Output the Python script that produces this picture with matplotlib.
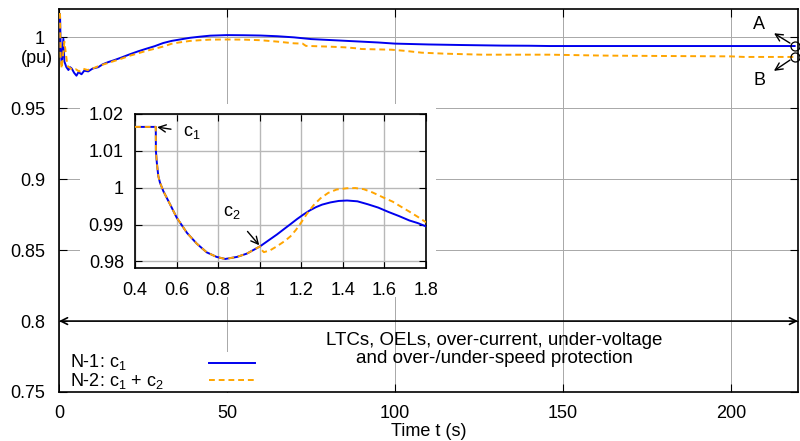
import matplotlib
matplotlib.use("Agg")
import matplotlib.pyplot as plt
from matplotlib.patches import Rectangle
from matplotlib.lines import Line2D

plt.rcParams['font.family'] = ['Liberation Sans', 'DejaVu Sans']
plt.rcParams['mathtext.fontset'] = 'custom'
plt.rcParams['mathtext.rm'] = 'Liberation Sans'
plt.rcParams['mathtext.it'] = 'Liberation Sans:italic'
plt.rcParams['mathtext.default'] = 'regular'

# ---------------- data ----------------
t_n1 = [0, 0.3, 0.5, 0.8, 1.3, 1.6, 2.2, 2.8, 3.3, 3.8, 4.5, 5.2, 5.8, 6.7, 7.5,
        8.7, 10, 11.7, 13, 14.7, 16.5, 18.6, 21, 23.6, 26, 28.5, 31, 33.5, 36,
        39, 42, 45, 50, 55, 60, 65, 70, 75, 80, 85, 90, 95, 100, 105, 110, 115,
        120, 126, 132, 140, 146, 155, 165, 175, 185, 195, 205, 215, 219]
v_n1 = [1.0165, 1.0165, 0.992, 0.981, 0.999, 0.983, 0.979, 0.977, 0.979, 0.978,
        0.975, 0.973, 0.9755, 0.974, 0.9765, 0.976, 0.978, 0.979, 0.981, 0.9826,
        0.984, 0.9858, 0.988, 0.9902, 0.992, 0.9938, 0.996, 0.9975, 0.9985,
        0.9997, 1.0005, 1.0012, 1.0016, 1.0015, 1.0013, 1.0008, 1.0000, 0.9988,
        0.9982, 0.9976, 0.9970, 0.9964, 0.9956, 0.9953, 0.9950, 0.9948, 0.9946,
        0.9944, 0.9942, 0.9941, 0.9939, 0.9939, 0.9939, 0.9939, 0.9939, 0.9939,
        0.9939, 0.9939, 0.9939]

t_n2 = [0, 0.3, 0.5, 0.8, 1.6, 2.5, 4, 5, 6, 7, 8.5, 10, 12, 14, 16, 18.6, 21,
        23.6, 26, 28.5, 31, 33.5, 36, 39, 42, 45, 50, 55, 60, 65, 70, 72.5,
        73.5, 80, 85, 89, 90, 99, 103, 108, 115, 126, 146, 161, 165, 185, 200,
        204, 219]
v_n2 = [1.0165, 1.0165, 0.985, 0.978, 0.997, 0.980, 0.977, 0.9775, 0.976,
        0.978, 0.977, 0.978, 0.980, 0.9815, 0.983, 0.985, 0.987, 0.9888, 0.9905,
        0.992, 0.9935, 0.9955, 0.9965, 0.9975, 0.998, 0.9984, 0.9985, 0.9984,
        0.998, 0.997, 0.9958, 0.9956, 0.9940, 0.9935, 0.993, 0.9922, 0.9918,
        0.9913, 0.9905, 0.9892, 0.9885, 0.9878, 0.9878, 0.9872, 0.9871, 0.9868,
        0.9866, 0.9862, 0.9862]

# inset (zoom on the first seconds)
ti_n1 = [0.4, 0.5, 0.5005, 0.505, 0.512, 0.52, 0.536, 0.569, 0.601, 0.65, 0.697,
         0.745, 0.793, 0.834, 0.89, 0.938, 1.002, 1.04, 1.083, 1.12, 1.148, 1.18,
         1.21, 1.24, 1.27, 1.3, 1.34, 1.38, 1.42, 1.47, 1.52, 1.57, 1.62, 1.67,
         1.72, 1.76, 1.8]
vi_n1 = [1.0165, 1.0165, 1.0100, 1.0068, 1.0032, 1.0014, 0.9991, 0.99545,
         0.99183, 0.98774, 0.98482, 0.98245, 0.9812, 0.98065, 0.9812, 0.9821,
         0.98409, 0.9856, 0.9873, 0.9889, 0.9901, 0.9915, 0.9927, 0.9938, 0.9947,
         0.9954, 0.9960, 0.9964, 0.99652, 0.9963, 0.9955, 0.9946, 0.9934, 0.9923,
         0.9911, 0.9904, 0.9895]

ti_n2 = [0.4, 0.5, 0.5005, 0.505, 0.512, 0.52, 0.536, 0.569, 0.601, 0.65, 0.697,
         0.745, 0.793, 0.834, 0.89, 0.938, 1.002, 1.006, 1.02, 1.05, 1.083, 1.12,
         1.148, 1.175, 1.2, 1.227, 1.26, 1.292, 1.33, 1.37, 1.42, 1.46, 1.5, 1.543,
         1.6, 1.64, 1.672, 1.72, 1.76, 1.8]
vi_n2 = [1.0165, 1.0165, 1.0100, 1.0068, 1.0032, 1.0014, 0.9991, 0.99545,
         0.99183, 0.98774, 0.98482, 0.98245, 0.9812, 0.98065, 0.9812, 0.9821,
         0.98409, 0.9833, 0.9825, 0.9830, 0.9841, 0.9855, 0.9868, 0.9886, 0.9906,
         0.9929, 0.9953, 0.9971, 0.9986, 0.9995, 0.99985, 0.9999, 0.9996, 0.9987,
         0.9972, 0.9962, 0.9951, 0.9935, 0.9921, 0.9906]

x_ticks = [0, 50, 100, 150, 200]
y_ticks = [0.75, 0.8, 0.85, 0.9, 0.95, 1.0]
y_ticklabels = ['0.75', '0.8', '0.85', '0.9', '0.95', '1']
xi_ticks = [0.4, 0.6, 0.8, 1.0, 1.2, 1.4, 1.6, 1.8]
xi_ticklabels = ['0.4', '0.6', '0.8', '1', '1.2', '1.4', '1.6', '1.8']
yi_ticks = [0.98, 0.99, 1.0, 1.01, 1.02]
yi_ticklabels = ['0.98', '0.99', '1', '1.01', '1.02']
labels = ['N-1: c$_1$', 'N-2: c$_1$ + c$_2$']

BLUE = '#0000ee'
ORANGE = '#ffa500'
FS = 13

W, H = 800, 441
fig = plt.figure(figsize=(8, 4.41), dpi=100)
ax = fig.add_axes([59 / W, 1 - 392 / H, (798 - 59) / W, (392 - 9) / H])
ax.set_zorder(0)
ax.set_xlim(0, 220)
ax.set_ylim(0.75, 1.02)
ax.set_xticks(x_ticks)
ax.set_yticks(y_ticks)
ax.set_yticklabels(y_ticklabels)
ax.tick_params(direction='in', length=6, width=0.8, labelsize=FS, top=True, right=True)
ax.tick_params(axis='y', pad=10)
ax.tick_params(axis='x', pad=9)
ax.grid(True, color='#a8a8a8', lw=0.7)
ax.set_axisbelow(True)
for s in ax.spines.values():
    s.set_linewidth(1.2)
ax.set_xlabel('Time t (s)', fontsize=FS)
ax.xaxis.set_label_coords(0.5, -0.08)
ax.text(-0.008, 0.9852, '(pu)', transform=ax.get_yaxis_transform(), ha='right',
        va='center', fontsize=FS)

ax.plot(t_n1, v_n1, color=BLUE, lw=1.4, zorder=4)
ax.plot(t_n2, v_n2, color=ORANGE, lw=1.4, dashes=(3, 2), zorder=4)

# end markers and A/B labels
ax.plot([t_n1[-1]], [v_n1[-1]], 'o', ms=6.5, mfc='none', mec='black', mew=0.9,
        clip_on=False, zorder=6)
ax.plot([t_n2[-1]], [v_n2[-1]], 'o', ms=6.5, mfc='none', mec='black', mew=0.9,
        clip_on=False, zorder=6)
ax.annotate('A', xy=(t_n1[-1], v_n1[-1]), xytext=(208.5, 1.0093), fontsize=FS,
            ha='center', va='center',
            arrowprops=dict(arrowstyle='<-', lw=1.0, color='black', shrinkA=5, shrinkB=4))
ax.annotate('B', xy=(t_n2[-1], v_n2[-1]), xytext=(208.5, 0.9695), fontsize=FS,
            ha='center', va='center',
            arrowprops=dict(arrowstyle='<-', lw=1.0, color='black', shrinkA=5, shrinkB=4))

# protection range arrow
ax.annotate('', xy=(0, 0.8), xytext=(220, 0.8),
            arrowprops=dict(arrowstyle='<->', lw=1.2, color='black', shrinkA=0, shrinkB=0,
                            mutation_scale=12))
ax.text(129.5, 0.7800, 'LTCs, OELs, over-current, under-voltage\nand over-/under-speed protection',
        ha='center', va='center', multialignment='center', fontsize=13.5, linespacing=1.08)

# legend (white box, text left, samples right)
ax.add_patch(Rectangle((1 / 739, 0.5 / 383), (262 - 60) / 739, 40 / 383,
                       transform=ax.transAxes, facecolor='white', edgecolor='none',
                       zorder=2))
ax.text(11 / 739, (392 - 362) / 383, labels[0], transform=ax.transAxes, fontsize=FS,
        va='center', ha='left', zorder=5)
ax.text(11 / 739, (392 - 381) / 383, labels[1], transform=ax.transAxes, fontsize=FS,
        va='center', ha='left', zorder=5)
leg = ax.legend([Line2D([], [], color=BLUE, lw=1.4),
                 Line2D([], [], color=ORANGE, lw=1.4, dashes=(3, 2))],
                ['', ''], loc='lower left', bbox_to_anchor=(136 / 739, -0.0345),
                frameon=False, handlelength=2.55, handletextpad=0, labelspacing=0.05,
                borderpad=0.3, fontsize=FS)

# white background behind inset incl. tick labels
fig.patches.append(Rectangle((80 / W, 1 - 297 / H), (436 - 80) / W, (297 - 104) / H,
                             transform=fig.transFigure, facecolor='white',
                             edgecolor='none', zorder=1))

# inset
axi = fig.add_axes([135 / W, 1 - 268 / H, (426 - 135) / W, (268 - 114) / H])
axi.set_zorder(3)
axi.set_xlim(0.4, 1.8)
axi.set_ylim(0.9782, 1.02)
axi.set_xticks(xi_ticks)
axi.set_xticklabels(xi_ticklabels)
axi.set_yticks(yi_ticks)
axi.set_yticklabels(yi_ticklabels)
axi.tick_params(direction='in', length=5, width=0.8, labelsize=FS, top=True, right=True)
axi.tick_params(axis='y', pad=8)
axi.tick_params(axis='x', pad=10)
axi.grid(True, color='#b8b8b8', lw=1.0)
axi.set_axisbelow(True)
for s in axi.spines.values():
    s.set_linewidth(1.2)
axi.plot(ti_n1, vi_n1, color=BLUE, lw=1.4, zorder=4)
axi.plot(ti_n2, vi_n2, color=ORANGE, lw=1.4, dashes=(3, 2), zorder=5)
axi.annotate('c$_1$', xy=(ti_n1[1], vi_n1[1]), xytext=(0.675, 1.0150), fontsize=FS,
             ha='center', va='center',
             arrowprops=dict(arrowstyle='->', lw=1.0, color='black', shrinkA=7, shrinkB=1))
axi.annotate('c$_2$', xy=(ti_n1[16], vi_n1[16]), xytext=(0.865, 0.9932), fontsize=FS,
             ha='center', va='center',
             arrowprops=dict(arrowstyle='->', lw=1.0, color='black', shrinkA=7, shrinkB=1))

fig.savefig('out.png', dpi=100)
